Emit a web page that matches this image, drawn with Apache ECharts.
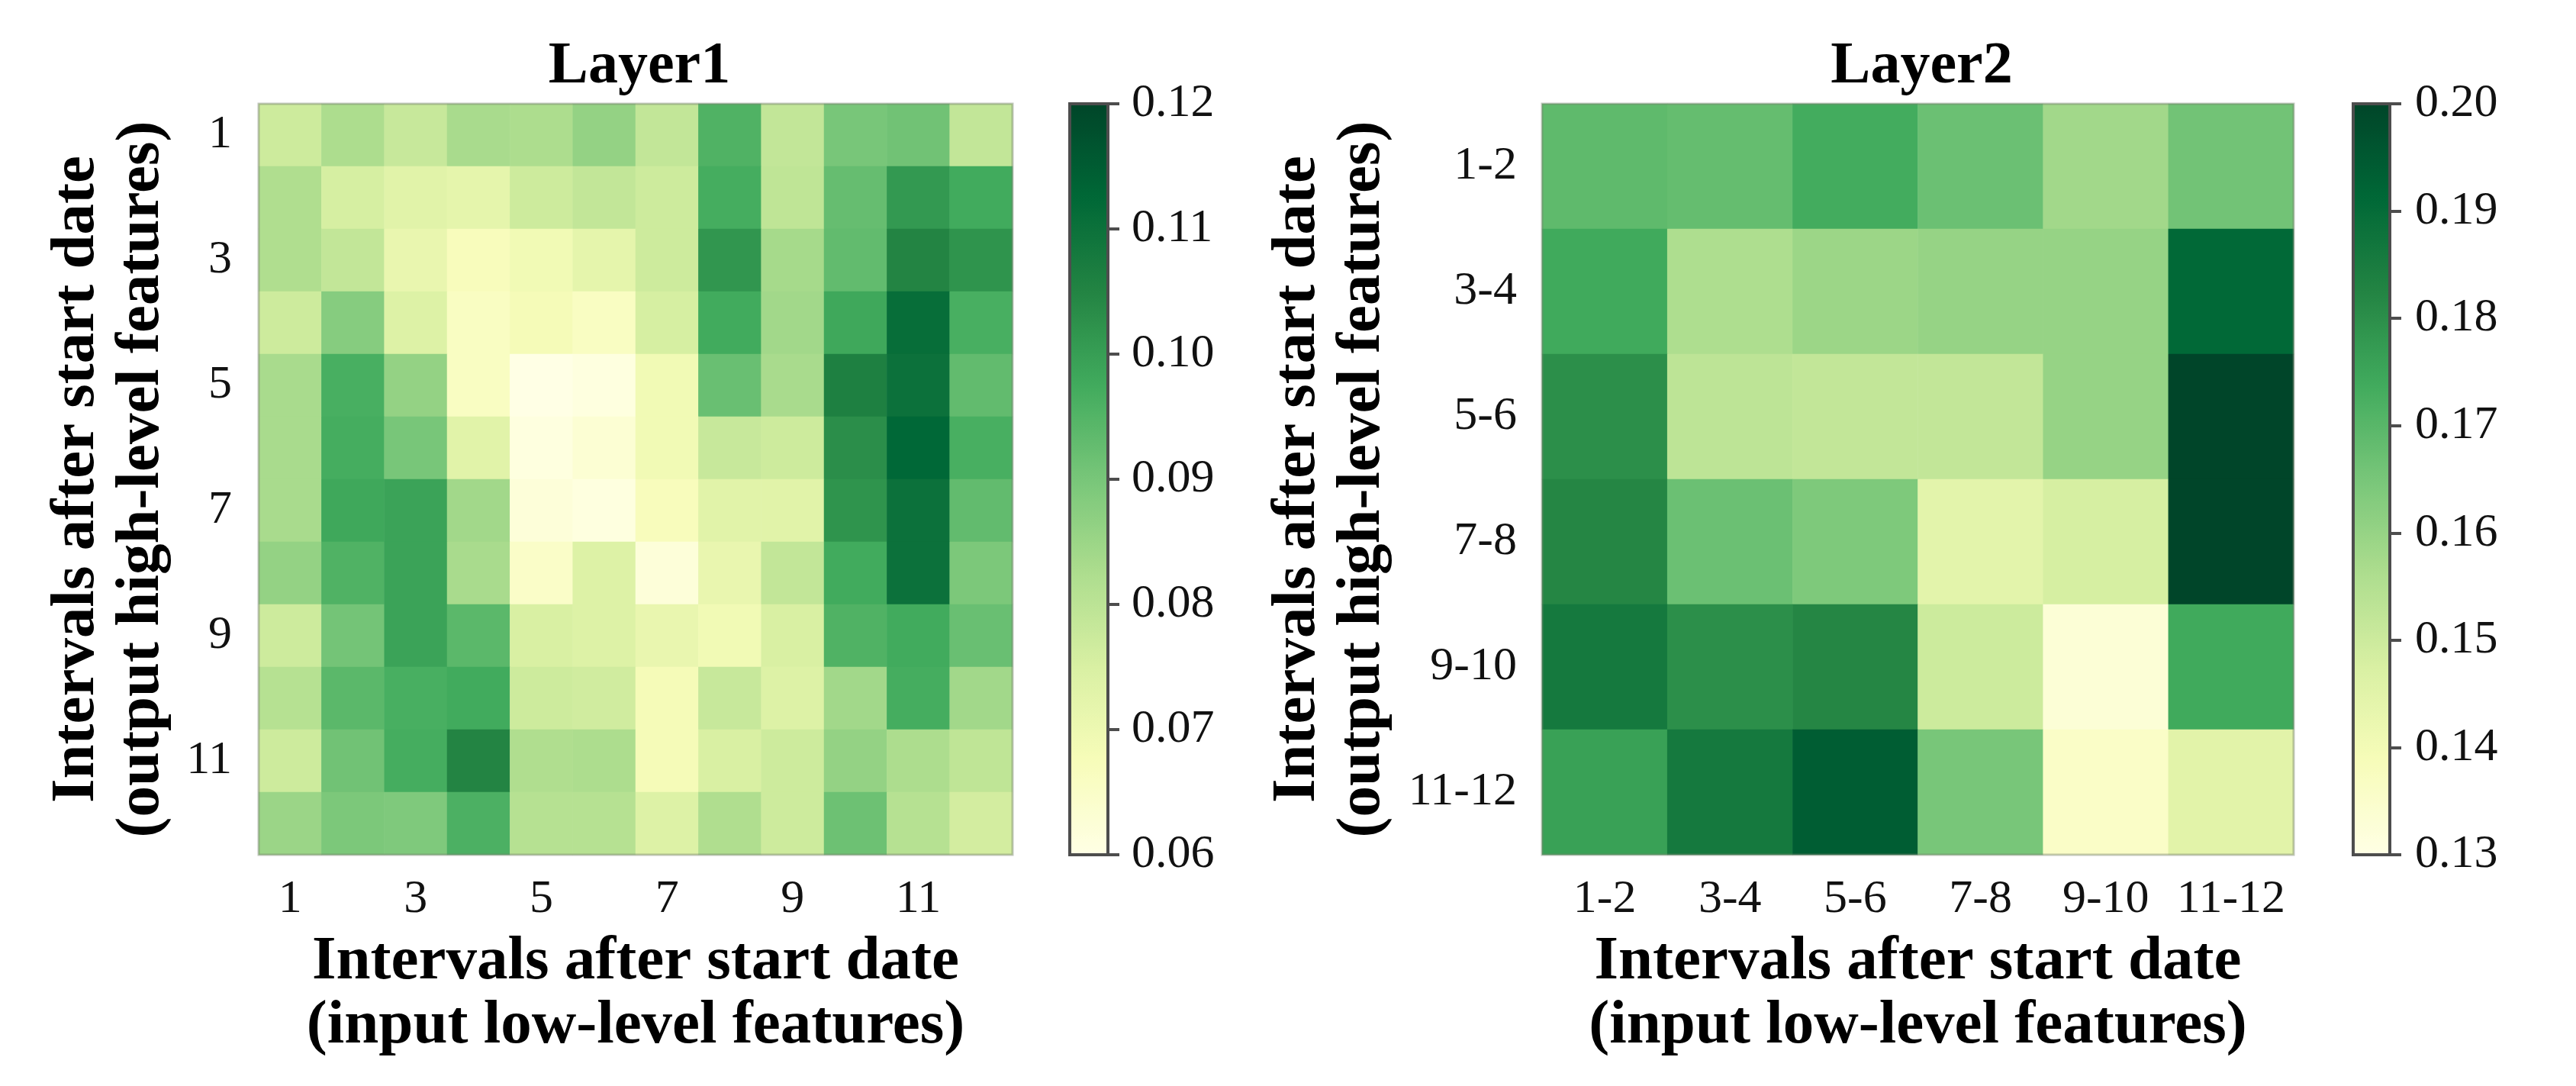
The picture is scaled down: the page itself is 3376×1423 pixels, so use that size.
<!DOCTYPE html>
<html><head><meta charset="utf-8">
<style>html,body{margin:0;padding:0;background:#fff}#c{width:3376px;height:1423px}</style>
<script src="https://cdn.jsdelivr.net/npm/echarts@6/dist/echarts.min.js"></script>
</head><body><div id="c"></div>
<script>
const layer1Cats = ['1','2','3','4','5','6','7','8','9','10','11','12'];
const layer2Cats = ['1-2','3-4','5-6','7-8','9-10','11-12'];
const layer1Values = [
[.077,.0825,.078,.083,.0825,.086,.079,.0955,.079,.090,.091,.079],
[.082,.0755,.073,.072,.077,.079,.077,.097,.0795,.0925,.101,.0975],
[.082,.079,.071,.067,.069,.072,.077,.1015,.0835,.093,.105,.102],
[.077,.088,.074,.066,.068,.066,.0755,.0975,.084,.098,.111,.0965],
[.083,.0965,.086,.066,.060,.061,.069,.092,.083,.106,.110,.093],
[.083,.097,.090,.073,.061,.063,.069,.078,.077,.103,.1125,.0965],
[.083,.098,.099,.084,.062,.061,.067,.073,.073,.102,.110,.093],
[.086,.0955,.099,.083,.065,.074,.062,.071,.079,.0975,.110,.0895],
[.077,.0905,.099,.094,.075,.074,.071,.069,.075,.0955,.0975,.092],
[.081,.094,.0965,.0975,.077,.0765,.068,.078,.074,.084,.097,.084],
[.077,.091,.097,.105,.082,.0825,.068,.075,.077,.086,.0825,.0795],
[.085,.0895,.089,.096,.081,.081,.074,.082,.077,.0915,.081,.076]];
const layer2Values = [
[.169,.168,.1735,.167,.158,.166],
[.174,.156,.159,.160,.160,.191],
[.180,.153,.152,.152,.160,.200],
[.182,.167,.164,.1445,.148,.200],
[.186,.180,.182,.150,.133,.174],
[.176,.186,.194,.165,.136,.145]];
const ylGn = ['#ffffe5','#f7fcb9','#d9f0a3','#addd8e','#78c679','#41ab5d','#238443','#006837','#004529'];
const xTitle = 'Intervals after start date\n(input low-level features)';
const yTitle = 'Intervals after start date\n(output high-level features)';
const serif = '"Liberation Serif"';
const toCells = m => m.flatMap((r,y)=>r.map((v,x)=>[x,y,v]));

function heat(cats, vals, rect, title, xi, interval){
  return {
    title:{text:title,left:rect.left+rect.width/2,top:44,textAlign:'center',
      textStyle:{fontFamily:serif,fontWeight:'bold',fontSize:78,color:'#000'}},
    grid:{left:rect.left,top:136,width:rect.width,height:984,show:true,z:5,backgroundColor:'transparent',
      borderColor:'rgba(120,130,110,0.45)',borderWidth:3,outerBoundsMode:'none'},
    x:{type:'category',gridIndex:xi,data:cats,position:'bottom',
      axisLine:{show:false},axisTick:{show:false},splitArea:{show:false},splitLine:{show:false},
      axisLabel:{interval,fontFamily:serif,fontSize:62,color:'#111',margin:28},
      name:xTitle,nameLocation:'middle',nameGap:99,
      nameTextStyle:{fontFamily:serif,fontWeight:'bold',fontSize:81,lineHeight:84,color:'#000'}},
    y:{type:'category',gridIndex:xi,data:cats,inverse:true,
      axisLine:{show:false},axisTick:{show:false},splitArea:{show:false},splitLine:{show:false},
      axisLabel:{interval,fontFamily:serif,fontSize:62,color:'#111',margin:rect.yMargin},
      name:yTitle,nameLocation:'middle',nameGap:rect.yGap,
      nameTextStyle:{fontFamily:serif,fontWeight:'bold',fontSize:81,lineHeight:85,color:'#000'}},
    s:{type:'heatmap',xAxisIndex:xi,yAxisIndex:xi,data:toCells(vals),itemStyle:{borderWidth:0},emphasis:{disabled:true}}
  };
}
function bar(left, width, min, max, gi, si, margin){
  return {
    grid:{left,top:136,width,height:984,show:true,z:10,backgroundColor:'transparent',borderColor:'#4d4d4d',borderWidth:4,outerBoundsMode:'none'},
    x:{type:'value',gridIndex:gi,show:false,min:1,max:2},
    y:{type:'value',gridIndex:gi,position:'right',min,max,interval:0.01,z:12,
      axisLine:{show:true,onZero:false,lineStyle:{color:'#4d4d4d',width:4}},splitLine:{show:false},
      axisTick:{show:true,inside:false,length:15,lineStyle:{color:'#4d4d4d',width:4}},
      axisLabel:{fontFamily:serif,fontSize:62,color:'#111',margin,formatter:v=>v.toFixed(2)}},
    vm:{type:'continuous',seriesIndex:si,min,max,left,top:136,itemWidth:width,itemHeight:984,padding:0,
      calculable:false,hoverLink:false,text:null,showLabel:false,inRange:{color:ylGn},z:6,textStyle:{fontSize:0}}
  };
}
const h1 = heat(layer1Cats,layer1Values,{left:339,width:988,yGap:110,yMargin:35},'Layer1',0,1);
const h2 = heat(layer2Cats,layer2Values,{left:2021,width:985,yGap:192,yMargin:33},'Layer2',1,0);
const b1 = bar(1402,50,0.06,0.12,2,0,31);
const b2 = bar(3084,48,0.13,0.20,3,1,33);
const chart = echarts.init(document.getElementById('c'),null,{renderer:'canvas'});
chart.setOption({
  animation:false,backgroundColor:'#fff',tooltip:{show:false},
  title:[h1.title,h2.title],
  grid:[h1.grid,h2.grid,b1.grid,b2.grid],
  xAxis:[h1.x,h2.x,b1.x,b2.x],
  yAxis:[h1.y,h2.y,b1.y,b2.y],
  visualMap:[b1.vm,b2.vm],
  series:[h1.s,h2.s]
});
</script></body></html>
